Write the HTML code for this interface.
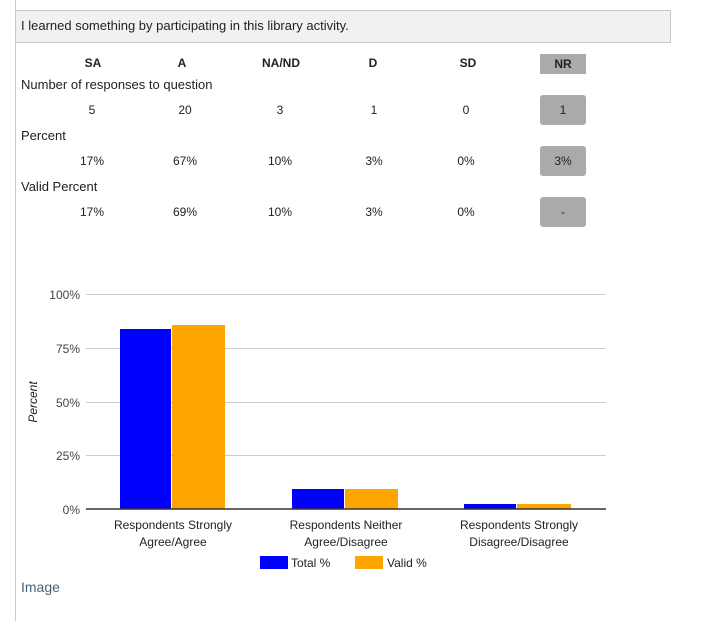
<!DOCTYPE html>
<html><head><style>
body{margin:0;width:701px;height:621px;background:#fff;font-family:"Liberation Sans",Arial,sans-serif;font-size:13px;color:#222;position:relative;overflow:hidden}
.a{position:absolute;white-space:nowrap}
.c{position:absolute;transform:translateX(-50%);white-space:nowrap}
.b{position:absolute;left:540px;width:46px;background:#aaa;border-radius:3px;text-align:center}
</style></head><body>
<div class="a" style="left:15px;top:0;width:1px;height:621px;background:#ccc"></div>
<div class="a" style="left:15px;top:10px;width:654px;height:31px;background:#f2f1f0;border:1px solid #c8c8c8"></div>
<div class="a" style="left:21px;top:18px;font-size:13px">I learned something by participating in this library activity.</div>
<div class="c" style="left:93px;top:56px;font-weight:bold;font-size:12px">SA</div>
<div class="c" style="left:182px;top:56px;font-weight:bold;font-size:12px">A</div>
<div class="c" style="left:281px;top:56px;font-weight:bold;font-size:12px">NA/ND</div>
<div class="c" style="left:373px;top:56px;font-weight:bold;font-size:12px">D</div>
<div class="c" style="left:468px;top:56px;font-weight:bold;font-size:12px">SD</div>
<div class="b" style="top:54px;height:20px;border-radius:0;font-weight:bold;font-size:12px;line-height:20px">NR</div>
<div class="a" style="left:21px;top:77px">Number of responses to question</div>
<div class="a" style="left:21px;top:128px">Percent</div>
<div class="a" style="left:21px;top:179px">Valid Percent</div>
<div class="c" style="left:92px;top:103px;font-size:12px">5</div><div class="c" style="left:185px;top:103px;font-size:12px">20</div><div class="c" style="left:280px;top:103px;font-size:12px">3</div><div class="c" style="left:374px;top:103px;font-size:12px">1</div><div class="c" style="left:466px;top:103px;font-size:12px">0</div>
<div class="b" style="top:95px;height:30px;line-height:30px;font-size:12px">1</div>
<div class="c" style="left:92px;top:154px;font-size:12px">17%</div><div class="c" style="left:185px;top:154px;font-size:12px">67%</div><div class="c" style="left:280px;top:154px;font-size:12px">10%</div><div class="c" style="left:374px;top:154px;font-size:12px">3%</div><div class="c" style="left:466px;top:154px;font-size:12px">0%</div>
<div class="b" style="top:146px;height:30px;line-height:30px;font-size:12px">3%</div>
<div class="c" style="left:92px;top:205px;font-size:12px">17%</div><div class="c" style="left:185px;top:205px;font-size:12px">69%</div><div class="c" style="left:280px;top:205px;font-size:12px">10%</div><div class="c" style="left:374px;top:205px;font-size:12px">3%</div><div class="c" style="left:466px;top:205px;font-size:12px">0%</div>
<div class="b" style="top:197px;height:30px;line-height:30px;font-size:12px">-</div>
<svg class="a" style="left:0;top:0" width="701" height="621" font-family="Liberation Sans,Arial,sans-serif" font-size="12" fill="#222">
<g stroke="#ccc" stroke-width="1">
<line x1="86" x2="606" y1="294.5" y2="294.5"/><line x1="86" x2="606" y1="348.5" y2="348.5"/><line x1="86" x2="606" y1="402.5" y2="402.5"/><line x1="86" x2="606" y1="455.5" y2="455.5"/></g>
<g text-anchor="end" fill="#444"><text x="80" y="299">100%</text><text x="80" y="353">75%</text><text x="80" y="407">50%</text><text x="80" y="460">25%</text><text x="80" y="514">0%</text></g>
<text transform="translate(37,402) rotate(-90)" text-anchor="middle" font-style="italic">Percent</text>
<rect x="120" y="329" width="51" height="180" fill="#00f"/><rect x="172" y="325" width="53" height="184" fill="#ffa500"/>
<rect x="292" y="489" width="52" height="20" fill="#00f"/><rect x="345" y="489" width="53" height="20" fill="#ffa500"/>
<rect x="464" y="504" width="52" height="5" fill="#00f"/><rect x="517" y="504" width="54" height="5" fill="#ffa500"/>
<line x1="86" x2="606" y1="509" y2="509" stroke="#333" stroke-width="1.5"/>
<g text-anchor="middle"><text x="173" y="529">Respondents Strongly</text><text x="173" y="546">Agree/Agree</text>
<text x="346" y="529">Respondents Neither</text><text x="346" y="546">Agree/Disagree</text>
<text x="519" y="529">Respondents Strongly</text><text x="519" y="546">Disagree/Disagree</text></g>
<rect x="260" y="556" width="28" height="13" fill="#00f"/><text x="291" y="567">Total %</text>
<rect x="355" y="556" width="28" height="13" fill="#ffa500"/><text x="387" y="567">Valid %</text>
<text x="21" y="592" font-size="14" fill="#3f6677">Image</text>
</svg>
</body></html>
